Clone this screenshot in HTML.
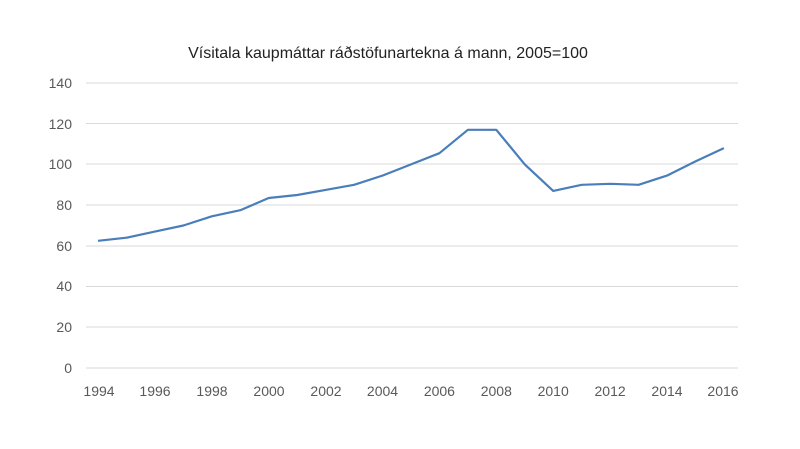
<!DOCTYPE html>
<html><head><meta charset="utf-8"><style>body{margin:0;background:#fff}svg{display:block}</style></head>
<body>
<svg width="800" height="449" viewBox="0 0 800 449" xmlns="http://www.w3.org/2000/svg" font-family="Liberation Sans, sans-serif">
<rect width="800" height="449" fill="#fff"/>
<text x="388" y="58" font-size="16" fill="#222" text-anchor="middle">Vísitala kaupmáttar ráðstöfunartekna á mann, 2005=100</text>
<g stroke="#d9d9d9" stroke-width="1">
<line x1="86" x2="738" y1="83" y2="83"/><line x1="86" x2="738" y1="123.5" y2="123.5"/><line x1="86" x2="738" y1="164" y2="164"/><line x1="86" x2="738" y1="205" y2="205"/><line x1="86" x2="738" y1="246" y2="246"/><line x1="86" x2="738" y1="286.5" y2="286.5"/><line x1="86" x2="738" y1="327" y2="327"/><line x1="86" x2="738" y1="368" y2="368"/>
</g>
<g font-size="14" fill="#595959" text-anchor="end">
<text x="72" y="88">140</text><text x="72" y="129">120</text><text x="72" y="169">100</text><text x="72" y="210">80</text><text x="72" y="251">60</text><text x="72" y="291">40</text><text x="72" y="332">20</text><text x="72" y="373">0</text>
</g>
<g font-size="14" fill="#595959" text-anchor="middle">
<text x="99" y="396">1994</text><text x="155" y="396">1996</text><text x="212" y="396">1998</text><text x="269" y="396">2000</text><text x="326" y="396">2002</text><text x="382.5" y="396">2004</text><text x="439.4" y="396">2006</text><text x="496.3" y="396">2008</text><text x="553.2" y="396">2010</text><text x="610.1" y="396">2012</text><text x="667" y="396">2014</text><text x="723" y="396">2016</text>
</g>
<polyline fill="none" stroke="#4a7ebb" stroke-width="2.2" stroke-linejoin="round" points="98,240.8 126.5,237.7 154.9,231.6 183.4,225.5 211.8,216.3 240.3,210.2 268.7,198 297.2,195 325.6,189.9 354.1,184.8 382.5,175.6 411,164.4 439.4,153.2 467.9,129.8 496.3,129.8 524.8,164.4 553.2,190.9 581.7,184.8 610.1,183.8 638.6,184.8 667,175.6 695.5,161.4 723.9,148.1"/>
</svg>
</body></html>
